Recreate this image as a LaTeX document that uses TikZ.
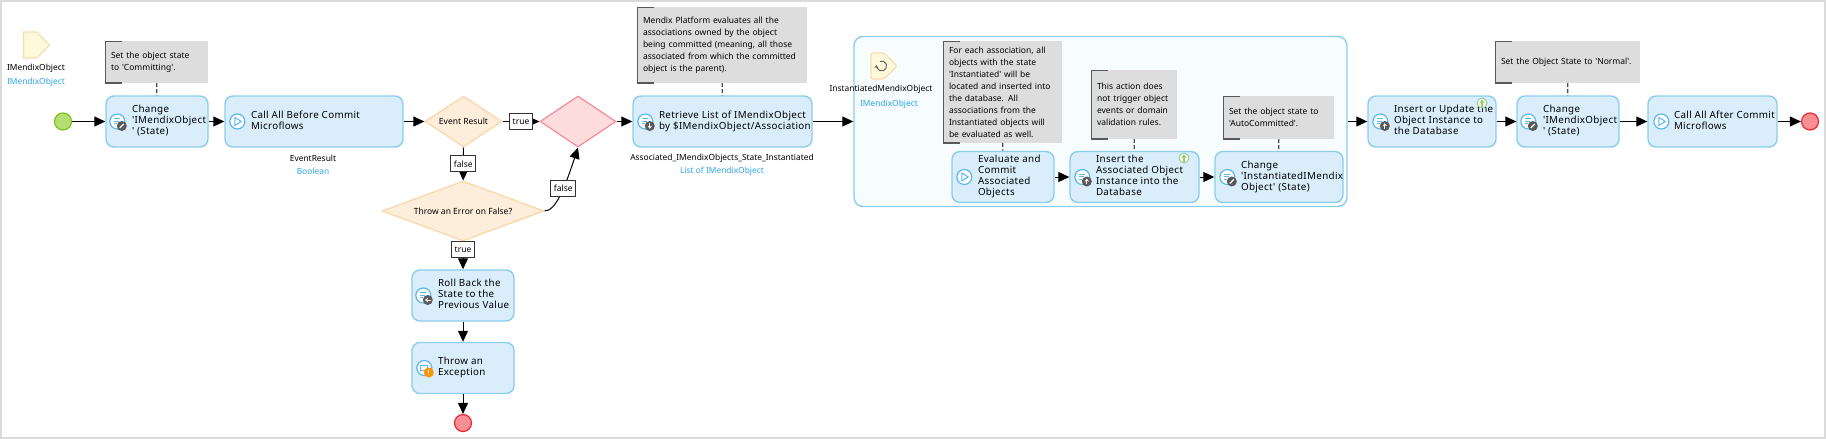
\documentclass[tikz,border=0pt]{standalone}
\usepackage{fontspec}
\usetikzlibrary{arrows.meta,shapes.geometric,shapes.symbols}
\newfontfamily\actfont[LetterSpace=3.5]{Noto Sans}
\newfontfamily\plainfont{Noto Sans}
\definecolor{boxfill}{HTML}{D9EEFA}
\definecolor{boxline}{HTML}{8CCDEE}
\definecolor{splitfill}{HTML}{FDEEDC}
\definecolor{splitline}{HTML}{FBD5A5}
\definecolor{mergefill}{HTML}{FDDCDE}
\definecolor{mergeline}{HTML}{F58C93}
\definecolor{startfill}{HTML}{B5DF75}
\definecolor{startline}{HTML}{7FBF0E}
\definecolor{stopfill}{HTML}{F88F94}
\definecolor{stopline}{HTML}{EE2831}
\definecolor{paramfill}{HTML}{FFF9DC}
\definecolor{paramline}{HTML}{FBDCB0}
\definecolor{notefill}{HTML}{DDDDDD}
\definecolor{typeblue}{HTML}{2BA6E8}
\definecolor{ringblue}{HTML}{5BB8EE}
\newcommand{\acttext}[2]{\makebox[#1pt][l]{\hspace{26pt}\begin{tabular}[c]{@{}l@{}}#2\end{tabular}}}
\tikzset{
  pics/ringplay/.style={code={
    \draw[ringblue,fill=white,line width=1.2pt] (0,0) circle (7.5pt);
    \draw[ringblue,line width=1pt,line join=round] (-2.5,-4) -- (4,0) -- (-2.5,4) -- cycle;}},
  pics/ringbase/.style={code={
    \draw[ringblue,fill=white,line width=1.2pt] (0,0) circle (7.5pt);
    \draw[ringblue,line width=.9pt] (-3,-3) -- (3,-3) (-3,-.5) -- (2,-.5) (-3,2) -- (0,2);}},
  pics/actarrow/.style 2 args={code={
    \pic {ringbase};
    \fill[black!65] (4.5,4.5) circle (5pt);
    \draw[white,line width=1pt,-{Stealth[length=3pt,width=4.5pt]}] ({4.5-2.8*#1},{4.5-2.8*#2}) -- ({4.5+2.8*#1},{4.5+2.8*#2});}},
  pics/actpen/.style={code={
    \pic {ringbase};
    \fill[black!65] (4.5,4.5) circle (5pt);
    \draw[white,line width=1.3pt] (2.5,6.5) -- (6.5,2.5);}},
  pics/actthrow/.style={code={
    \draw[ringblue,fill=white,line width=1.2pt] (0,0) circle (7.5pt);
    \draw[ringblue,line width=.9pt] (-4,-3) rectangle (3,2);
    \fill[orange!85!yellow] (4.5,4.5) circle (5pt);
    \draw[white,line width=1.1pt] (4.5,1.5) -- (4.5,5) (4.5,6.2) -- (4.5,7.4);}},
  pics/upmark/.style={code={
    \draw[startfill!60!ringblue,fill=startfill!15!white,line width=.9pt] (0,0) circle (5pt);
    \draw[startfill!90!black,line width=1.1pt,-{Stealth[length=3.5pt,width=5pt]}] (0,3.5) -- (0,-3.5);}}
}
\begin{document}
\begin{tikzpicture}
  [x=1pt,y=-1pt,
   actbox/.style={draw=boxline,fill=boxfill,line width=1.4pt,rounded corners=8pt,inner sep=0pt,
     minimum height=51pt,font=\actfont\fontsize{9.8}{11}\selectfont},
   notebox/.style={fill=notefill,inner xsep=6pt,inner ysep=0pt,align=left,
     font=\plainfont\fontsize{8.5}{12}\selectfont,
     path picture={\draw[black!65,line width=2.4pt]
       ([xshift=17pt]path picture bounding box.north west) -- (path picture bounding box.north west)
       -- (path picture bounding box.south west) -- ([xshift=17pt]path picture bounding box.south west);}},
   splitbox/.style={diamond,draw=splitline,fill=splitfill,line width=1.2pt,inner sep=0pt,
     font=\plainfont\fontsize{8.5}{11}\selectfont},
   mergebox/.style={diamond,draw=mergeline,fill=mergefill,line width=1.2pt,inner sep=0pt,aspect=1.5},
   startdot/.style={circle,draw=startline,fill=startfill,line width=1.2pt,minimum size=17pt,inner sep=0pt},
   stopdot/.style={circle,draw=stopline,fill=stopfill,line width=1.2pt,minimum size=17pt,inner sep=0pt},
   param/.style={signal,signal to=east,signal pointer angle=90,draw=paramline,fill=paramfill,
     line width=1.2pt,minimum width=26pt,minimum height=26pt,inner sep=0pt},
   varname/.style={inner sep=0pt,font=\plainfont\fontsize{8.4}{11}\selectfont},
   vartype/.style={varname,text=typeblue},
   edgelab/.style={draw=black!80,fill=white,line width=1pt,inner xsep=3pt,inner ysep=1pt,
     minimum height=16pt,font=\plainfont\fontsize{8.5}{11}\selectfont},
   flow/.style={draw=black,line width=1pt,-{Triangle[length=11pt,width=10pt]}},
   notelink/.style={draw=black!70,line width=1.2pt,dash pattern=on 4pt off 2pt}]

  \useasboundingbox (0,0) rectangle (1826,439);
  \draw[black!14,line width=1.5pt] (.75,.75) rectangle (1825,438);

  \node[draw=boxline,fill=boxfill!20!white,line width=1.4pt,rounded corners=9pt,minimum width=493pt,minimum height=170pt] (loopframe) at (1100.5,121.5) {};

  \node[param] (param0) at (30,45) {};
  \node[varname] (name0) at (36,68) {IMendixObject};
  \node[vartype] (type0) at (36,82) {IMendixObject};

  \node[startdot] (start0) at (63,121.5) {};
  \node[actbox] (change0) at (157,121.5) {\acttext{102}{Change\\'IMendixObject\\' (State)}};
  \node[actbox] (call0) at (314,121.5) {\acttext{178}{Call All Before Commit\\Microflows}};
  \node[varname] (name1) at (313,158) {EventResult};
  \node[vartype] (type1) at (313,171) {Boolean};

  \node[splitbox,aspect=1.5,minimum width=77pt,minimum height=51pt] (split0) at (463.5,121.5) {Event Result};
  \node[mergebox,minimum width=76pt,minimum height=51pt] (merge0) at (578,121.5) {};
  \node[splitbox,aspect=2.7,minimum width=162pt,minimum height=60pt] (split1) at (463,211) {Throw an Error on False?};

  \node[actbox] (roll0) at (463,295.5) {\acttext{102}{Roll Back the\\State to the\\Previous Value}};
  \node[actbox] (throw0) at (463,368) {\acttext{102}{Throw an\\Exception}};
  \node[stopdot] (stop0) at (463,423) {};

  \node[actbox] (list0) at (722.5,121.5) {\acttext{179}{Retrieve List of IMendixObject\\by \$IMendixObject/Association}};
  \node[varname] (name2) at (722,158) {Associated\_IMendixObjects\_State\_Instantiated};
  \node[vartype] (type2) at (722,171) {List of IMendixObject};

  \node[param,rounded corners=1.5pt] (param1) at (877.5,66) {};
  \draw[black!60,line width=1pt,-{Stealth[length=3pt,width=4pt]}] (879.9,61.3) arc (-110:190:5);
  \node[varname] (name3) at (881,89) {InstantiatedMendixObject};
  \node[vartype] (type3) at (889,104) {IMendixObject};

  \node[actbox] (eval0) at (1003,177) {\acttext{102}{Evaluate and\\Commit\\Associated\\Objects}};
  \node[actbox] (insert0) at (1134.5,177) {\acttext{129}{Insert the\\Associated Object\\Instance into the\\Database}};
  \node[actbox] (change1) at (1279,177) {\acttext{128}{Change\\'InstantiatedIMendix\\Object' (State)}};

  \node[actbox] (insert1) at (1432,121.5) {\acttext{128}{Insert or Update the\\Object Instance to\\the Database}};
  \node[actbox] (change2) at (1568,121.5) {\acttext{102}{Change\\'IMendixObject\\' (State)}};
  \node[actbox] (call1) at (1712.5,121.5) {\acttext{129}{Call All After Commit\\Microflows}};
  \node[stopdot] (stop1) at (1810,121.5) {};

  \node[notebox,text width=91pt,minimum height=42pt] (note0) at (156.5,62) {Set the object state\\to 'Committing'.};
  \node[notebox,text width=158pt,minimum height=76pt] (note1) at (722,45) {Mendix Platform evaluates all the\\associations owned by the object\\being committed (meaning, all those\\associated from which the committed\\object is the parent).};
  \node[notebox,text width=107pt,minimum height=102pt] (note2) at (1002.5,92) {For each association, all\\objects with the state\\'Instantiated' will be\\located and inserted into\\the database. All\\associations from the\\Instantiated objects will\\be evaluated as well.};
  \node[notebox,text width=74pt,minimum height=69pt] (note3) at (1134,104.5) {This action does\\not trigger object\\events or domain\\validation rules.};
  \node[notebox,text width=99pt,minimum height=43pt] (note4) at (1278.5,117.5) {Set the object state to\\'AutoCommitted'.};
  \node[notebox,text width=133pt,minimum height=42pt] (note5) at (1567.5,62) {Set the Object State to 'Normal'.};

  \foreach \from/\to in {start0/change0,change0/call0,call0/split0,merge0/list0,list0/loopframe,
      eval0/insert0,insert0/change1,loopframe/insert1,insert1/change2,change2/call1,call1/stop1,
      roll0/throw0,throw0/stop0}
    \draw[flow] (\from) -- (\to);

  \draw[flow] (split0) -- node[edgelab] (lab0) {true} (merge0);
  \draw[flow] (split0) -- node[edgelab] (lab1) {false} (split1);
  \draw[flow] (split1) -- node[edgelab,pos=.3] (lab2) {true} (roll0);
  \draw[flow] (split1.east) .. controls (556,211) and (565,187) .. node[edgelab,pos=.58] (lab3) {false} (merge0.south);

  \foreach \from/\to in {note0/change0,note1/list0,note2/eval0,note3/insert0,note4/change1,note5/change2}
    \draw[notelink] (\from) -- (\to);

  \pic at ([xshift=12pt]change0.west) {actpen};
  \pic at ([xshift=13pt]call0.west) {ringplay};
  \pic at ([xshift=13pt]list0.west) {actarrow={0}{1}};
  \pic at ([xshift=12pt]roll0.west) {actarrow={-1}{0}};
  \pic at ([xshift=13pt]throw0.west) {actthrow};
  \pic at ([xshift=13pt]eval0.west) {ringplay};
  \pic at ([xshift=13pt]insert0.west) {actarrow={0}{-1}};
  \pic at ([xshift=13pt]change1.west) {actpen};
  \pic at ([xshift=13pt]insert1.west) {actarrow={0}{-1}};
  \pic at ([xshift=12pt]change2.west) {actpen};
  \pic at ([xshift=14pt]call1.west) {ringplay};
  \pic at (1184,158) {upmark};
  \pic at (1482,103) {upmark};
\end{tikzpicture}
\end{document}
